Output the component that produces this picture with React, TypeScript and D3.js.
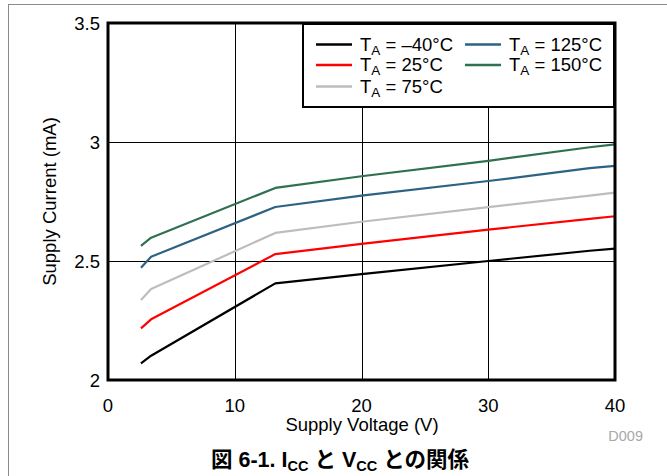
import React from "react";
import * as d3 from "d3";

const voltages = [2.6, 3.4, 13.2, 20, 30, 38, 40];
const seriesNames = ["–40°C", "25°C", "75°C", "125°C", "150°C"];
const seriesColors = ["#000000", "#ff0000", "#bdbdbd", "#2e6283", "#2e7050"];
const currM40 = [2.07, 2.102, 2.406, 2.445, 2.5, 2.543, 2.552];
const curr25 = [2.217, 2.255, 2.529, 2.572, 2.632, 2.677, 2.688];
const curr75 = [2.336, 2.382, 2.618, 2.665, 2.726, 2.775, 2.787];
const curr125 = [2.472, 2.518, 2.727, 2.775, 2.836, 2.89, 2.9];
const curr150 = [2.564, 2.598, 2.807, 2.856, 2.921, 2.978, 2.99];
const seriesValues = [currM40, curr25, curr75, curr125, curr150];
const xTicks = [0, 10, 20, 30, 40];
const yTicks = [2, 2.5, 3, 3.5];

const FONT = "'Liberation Sans', Arial, sans-serif";

export default function App() {
  const left = 108, right = 615, top = 23, bottom = 380;
  const x = d3.scaleLinear().domain([0, 40]).range([left, right]);
  const y = d3.scaleLinear().domain([2, 3.5]).range([bottom, top]);
  const line = d3
    .line<[number, number]>()
    .x((d) => x(d[0]))
    .y((d) => y(d[1]));

  const legendItems = [
    { i: 0, col: 0, row: 0 },
    { i: 1, col: 0, row: 1 },
    { i: 2, col: 0, row: 2 },
    { i: 3, col: 1, row: 0 },
    { i: 4, col: 1, row: 1 },
  ];
  const rowY = [44.5, 65, 86.5];
  const colX = [316, 465];

  return (
    <svg
      width={667}
      height={476}
      style={{ position: "absolute", left: 0, top: 0, background: "#fff" }}
      fontFamily={FONT}
    >
      <rect x={8.5} y={4.5} width={700} height={520} fill="none" stroke="#8a8a8a" strokeWidth={1} />

      {/* grid */}
      {xTicks.slice(1, -1).map((t) => (
        <line key={"gx" + t} x1={Math.round(x(t)) + 0.5} x2={Math.round(x(t)) + 0.5} y1={top} y2={bottom} stroke="#000" strokeWidth={1} />
      ))}
      {yTicks.slice(1, -1).map((t) => (
        <line key={"gy" + t} x1={left} x2={right} y1={Math.round(y(t)) + 0.5} y2={Math.round(y(t)) + 0.5} stroke="#000" strokeWidth={1} />
      ))}

      {/* series */}
      {seriesValues.map((vals, si) => (
        <path
          key={"s" + si}
          d={line(voltages.map((v, k) => [v, vals[k]] as [number, number])) || ""}
          fill="none"
          stroke={seriesColors[si]}
          strokeWidth={2.2}
          strokeLinejoin="round"
        />
      ))}

      {/* frame */}
      <rect x={left} y={top} width={right - left} height={bottom - top} fill="none" stroke="#000" strokeWidth={3} />

      {/* tick labels */}
      {xTicks.map((t) => (
        <text key={"xt" + t} x={x(t)} y={411.5} textAnchor="middle" fontSize={18.5} fill="#000">
          {t}
        </text>
      ))}
      {yTicks.map((t) => (
        <text key={"yt" + t} x={100} y={y(t) + 6.5} textAnchor="end" fontSize={18.5} fill="#000">
          {t}
        </text>
      ))}

      {/* axis titles */}
      <text x={362} y={431} textAnchor="middle" fontSize={18.5} fill="#000">
        Supply Voltage (V)
      </text>
      <text
        transform={`translate(56, ${(top + bottom) / 2}) rotate(-90)`}
        textAnchor="middle"
        fontSize={18.5}
        fill="#000"
      >
        Supply Current (mA)
      </text>

      {/* legend */}
      <rect x={303} y={24} width={311} height={83} fill="#fff" stroke="#000" strokeWidth={2} />
      {legendItems.map(({ i, col, row }) => (
        <g key={"lg" + i}>
          <line
            x1={colX[col]}
            x2={colX[col] + 36}
            y1={rowY[row]}
            y2={rowY[row]}
            stroke={seriesColors[i]}
            strokeWidth={2.5}
          />
          <text x={colX[col] + 44} y={rowY[row] + 6} fontSize={18.5} fill="#000">
            T<tspan fontSize={13.5} dy={4}>A</tspan>
            <tspan dy={-4}>{" = " + seriesNames[i]}</tspan>
          </text>
        </g>
      ))}

      <text x={643} y={441} textAnchor="end" fontSize={14.5} fill="#a8a8a8">
        D009
      </text>

      <text
        x={340}
        y={467}
        textAnchor="middle"
        fontSize={21.5}
        fontWeight="bold"
        fill="#000"
        fontFamily="'Liberation Sans', 'Noto Sans CJK JP', sans-serif"
      >
        図 6-1. I<tspan fontSize={14.5} dy={4}>CC</tspan>
        <tspan dy={-4}> と V</tspan>
        <tspan fontSize={14.5} dy={4}>CC</tspan>
        <tspan dy={-4}> との関係</tspan>
      </text>
    </svg>
  );
}
